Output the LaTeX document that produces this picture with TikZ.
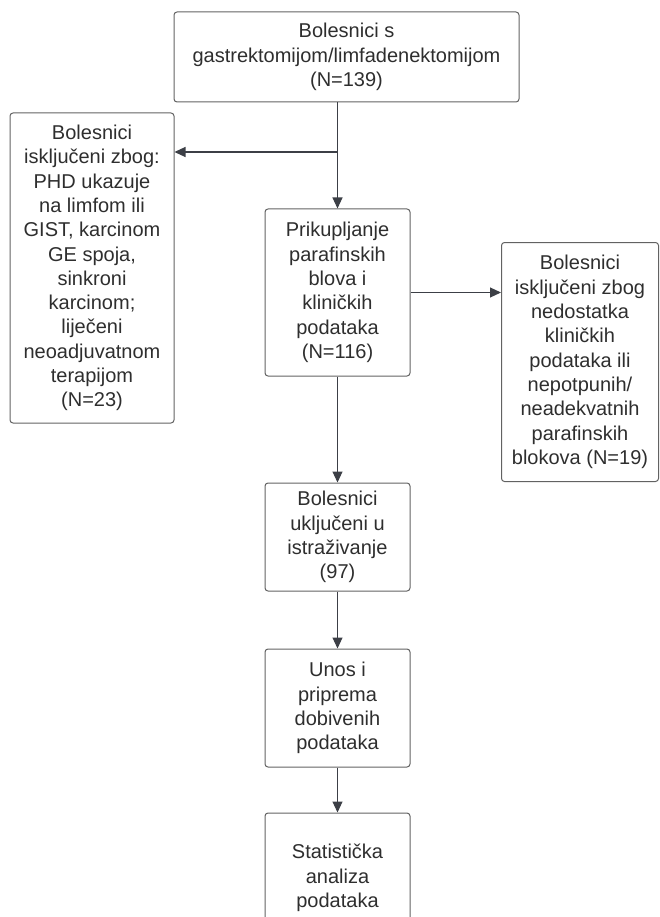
\documentclass[tikz,border=0pt]{standalone}
\usepackage{fontspec}
\setmainfont{Liberation Sans}
\usetikzlibrary{arrows.meta}
\definecolor{boxline}{HTML}{626262}
\definecolor{conn}{HTML}{3C3F46}
\definecolor{txt}{HTML}{2E2E2E}
\tikzset{
	box/.style={draw=boxline, line width=1pt, rounded corners=3pt, align=center, text=txt,
		font=\fontsize{20}{24.3}\selectfont, inner sep=2pt},
	arr/.style={draw=conn, line width=1.1pt, -{Triangle[length=11pt,width=10pt]}}
}
\begin{document}
\begin{tikzpicture}[x=1pt,y=-1pt]
		\clip (0,0) rectangle (660,917);
		\node[box, minimum width=345pt, minimum height=90pt](top) at (346.5,57) {Bolesnici s\\gastrektomijom/limfadenektomijom\\(N=139)};
		\node[box, minimum width=164pt, minimum height=310pt](left) at (92,268) {Bolesnici\\isključeni zbog:\\PHD ukazuje\\na limfom ili\\GIST, karcinom\\GE spoja,\\sinkroni\\karcinom;\\liječeni\\neoadjuvatnom\\terapijom\\(N=23)};
		\node[box, minimum width=145pt, minimum height=167pt](prik) at (337.5,292.5) {Prikupljanje\\parafinskih\\blova i\\kliničkih\\podataka\\(N=116)};
		\node[box, minimum width=157pt, minimum height=239pt](right) at (580,362) {Bolesnici\\isključeni zbog\\nedostatka\\kliničkih\\podataka ili\\nepotpunih/\\neadekvatnih\\parafinskih\\blokova (N=19)};
		\node[box, minimum width=145pt, minimum height=108pt](uklj) at (337.5,537) {Bolesnici\\uključeni u\\istraživanje\\(97)};
		\node[box, minimum width=145pt, minimum height=118pt](unos) at (337.5,708) {Unos i\\priprema\\dobivenih\\podataka};
		\node[box, minimum width=145pt, minimum height=130pt](stat) at (337.5,878) {Statistička\\analiza\\podataka};
		\coordinate(br) at (337.5,152);

		\draw[conn, line width=1.1pt](top.south -| prik.north) -- (br);
		\draw[arr](br) -- (prik.north);
		\draw[arr](br) -- (left.east |- br);
		\draw[arr](prik.east) -- (prik.east -| right.west);
		\draw[arr](prik.south) -- (uklj.north);
		\draw[arr](uklj.south) -- (unos.north);
		\draw[arr](unos.south) -- (stat.north);
	\end{tikzpicture}
\end{document}
